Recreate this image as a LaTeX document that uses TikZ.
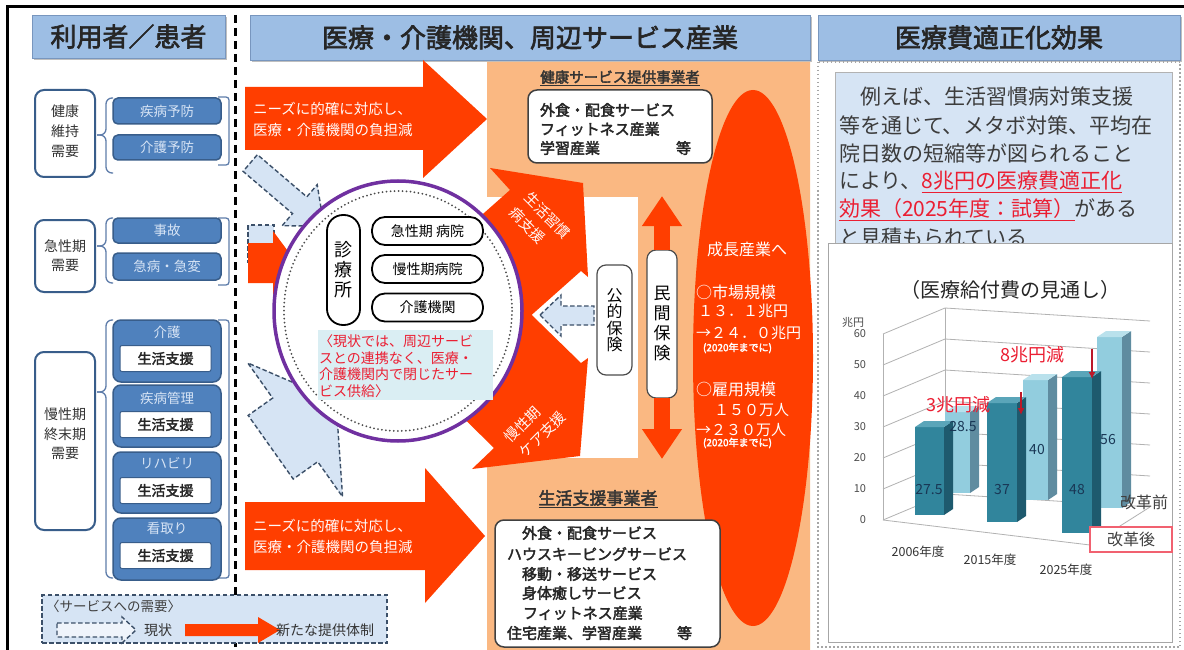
\documentclass[tikz,border=0pt]{standalone}
\usepackage{fontspec}
\setmainfont[AutoFakeBold=2.5]{Noto Sans CJK JP}
\usetikzlibrary{shapes.geometric,arrows.meta}
\definecolor{hdr}{RGB}{157,190,228}
\definecolor{hdrd}{RGB}{120,150,190}
\definecolor{bx}{RGB}{79,129,189}
\definecolor{bxd}{RGB}{56,93,138}
\definecolor{bxt}{RGB}{215,228,245}
\definecolor{brk}{RGB}{95,125,170}
\definecolor{rd}{RGB}{255,62,0}
\definecolor{org}{RGB}{250,184,130}
\definecolor{dsh}{RGB}{60,80,105}
\definecolor{lbl}{RGB}{214,228,244}
\definecolor{purp}{RGB}{112,48,160}
\definecolor{cyb}{RGB}{218,238,243}
\definecolor{tealf}{RGB}{49,133,156}
\definecolor{teals}{RGB}{30,90,110}
\definecolor{tealt}{RGB}{90,165,185}
\definecolor{ltf}{RGB}{146,205,222}
\definecolor{lts}{RGB}{95,140,160}
\definecolor{ltt}{RGB}{185,225,236}
\definecolor{pred}{RGB}{235,30,50}
\definecolor{txg}{RGB}{60,60,60}
\newcommand\fsz[2]{\fontsize{#1}{#2}\selectfont}
\newcommand\cbar[7]{%
  \fill[#5] (#1,#4) rectangle (#2,#3);
  \fill[#6] (#2,#4) -- ({#2+9},{#4-6}) -- ({#2+9},{#3-6}) -- (#2,#3) -- cycle;
  \fill[#7] (#1,#3) -- ({#1+9},{#3-6}) -- ({#2+9},{#3-6}) -- (#2,#3) -- cycle;}
\tikzset{
 every node/.style={inner sep=0pt, outer sep=0pt},
 hdrbox/.style={fill=hdr, draw=hdrd, line width=0.8pt, font=\fsz{26}{30}\bfseries, text=black!85},
 needbox/.style={draw=bxd, line width=2pt, rounded corners=9pt, fill=white},
 needtxt/.style={font=\fsz{14}{20}, align=center, text=black!80},
 bluebox/.style={fill=bx, draw=bxd, line width=1.5pt, rounded corners=5pt, minimum width=108pt, font=\fsz{13.5}{16}, text=bxt},
 grptxt/.style={font=\fsz{13.5}{16}, text=bxt},
 lifebox/.style={fill=white, draw=bxd, line width=1pt, rounded corners=2pt, minimum width=91pt, minimum height=26pt, font=\fsz{14}{16}\bfseries, text=black!85},
 brace/.style={draw=brk, line width=1.3pt, rounded corners=6pt},
 dashar/.style={fill=lbl, draw=dsh, line width=1.4pt, dash pattern=on 4.5pt off 2.5pt},
 arrtxt/.style={font=\fsz{14.5}{21}, text=white!92!pink, align=left},
 stad/.style={draw=black, line width=1.8pt, rounded corners=13pt, fill=white, font=\fsz{14}{16}},
 vbox/.style={draw=black!70, line width=1.2pt, rounded corners=9pt, fill=white, align=center},
 wbox/.style={draw=black!75, line width=1.5pt, rounded corners=9pt, fill=white},
 svc/.style={font=\fsz{15}{17}\bfseries, anchor=west, text=black!85},
 eltxt/.style={font=\fsz{16}{18}, text=white},
 elnum/.style={font=\fsz{15}{18}, text=white, anchor=west},
 elsm/.style={font=\fsz{10}{12}\bfseries, text=white, anchor=west},
 ptxt/.style={font=\fsz{21}{24}, anchor=west, text=txg},
 axl/.style={font=\fsz{11}{12}, text=black!70},
 chgrid/.style={draw=black!30, line width=0.8pt},
 barl/.style={font=\fsz{14}{16}, text={rgb,255:red,25;green,55;blue,85}},
 bigar/.style={draw=rd, line width=16pt, -{Triangle[length=30pt,width=38pt]}},
 chartar/.style={draw=pred!80!black, line width=1.5pt, -{Latex[length=7pt,width=7pt]}},
}
\begin{document}
\begin{tikzpicture}[x=1pt,y=-1pt]
\useasboundingbox (0,0) rectangle (1184,650);
\fill[white] (0,0) rectangle (1184,650);
% frame
\draw[line width=3pt] (7,650) -- (7,7) -- (1184,7);
% headers
\fill[black!25] (34,17) rectangle (227,60);
\node[hdrbox, minimum width=193pt, minimum height=43pt] (h1) at (128.5,36.5) {利用者／患者};
\fill[black!25] (252,17) rectangle (812,62);
\node[hdrbox, minimum width=560pt, minimum height=45pt] (h2) at (530,37.5) {医療・介護機関、周辺サービス産業};
\fill[black!25] (820,17) rectangle (1182,62);
\node[hdrbox, minimum width=362pt, minimum height=45pt] (h3) at (999,37.5) {医療費適正化効果};
% divider
\draw[line width=3pt, dash pattern=on 8pt off 5pt] (235,15) -- (235,650);

% ---------- left column ----------
\node[needbox, minimum width=60pt, minimum height=87pt] (n1) at (65,133.5) {};
\node[needtxt] (n1t) at (65,131) {健康\\維持\\需要};
\node[needbox, minimum width=60pt, minimum height=72pt] (n2) at (65,256) {};
\node[needtxt, font=\fsz{14}{19}] (n2t) at (65,256) {急性期\\需要};
\node[needbox, minimum width=60pt, minimum height=178pt] (n3) at (65,441) {};
\node[needtxt, font=\fsz{14}{19.5}] (n3t) at (65,434) {慢性期\\終末期\\需要};

\draw[brace] (113,98) -- (106,98) -- (106,135) -- (97,135);
\draw[brace] (113,173) -- (106,173) -- (106,135) -- (97,135);
\draw[brace] (113,218) -- (106,218) -- (106,246) -- (97,246);
\draw[brace] (113,283) -- (106,283) -- (106,246) -- (97,246);
\draw[brace] (113,320) -- (106,320) -- (106,392) -- (97,392);
\draw[brace] (113,578) -- (106,578) -- (106,392) -- (97,392);
\draw[brace, rounded corners=3pt] (218,97) -- (229,97) -- (229,165) -- (218,165);
\draw[brace, rounded corners=3pt] (218,218) -- (229,218) -- (229,285) -- (218,285);
\draw[brace, rounded corners=3pt] (218,320) -- (229,320) -- (229,578) -- (218,578);

\node[bluebox, minimum height=26pt] (b1) at (167,111) {疾病予防};
\node[bluebox, minimum height=25pt] (b2) at (167,147.5) {介護予防};
\node[bluebox, minimum height=25pt] (b3) at (167,230.5) {事故};
\node[bluebox, minimum height=27pt] (b4) at (167,266.5) {急病・急変};

\node[bluebox, minimum height=62pt, rounded corners=8pt] (g1) at (167,351) {};
\node[grptxt] (g1t) at (167,332) {介護};
\node[lifebox] (g1s) at (165.5,358.5) {生活支援};
\node[bluebox, minimum height=62pt, rounded corners=8pt] (g2) at (167,416) {};
\node[grptxt] (g2t) at (167,398) {疾病管理};
\node[lifebox] (g2s) at (165.5,424.5) {生活支援};
\node[bluebox, minimum height=61pt, rounded corners=8pt] (g3) at (167,482.5) {};
\node[grptxt] (g3t) at (167,463) {リハビリ};
\node[lifebox] (g3s) at (165.5,490.5) {生活支援};
\node[bluebox, minimum height=62pt, rounded corners=8pt] (g4) at (167,549) {};
\node[grptxt] (g4t) at (167,528) {看取り};
\node[lifebox] (g4s) at (165.5,555.5) {生活支援};

% legend
\node[draw=dsh, line width=1.4pt, dash pattern=on 4.5pt off 2.5pt, fill=lbl, minimum width=345pt, minimum height=48pt] (leg) at (214.5,619) {};
\node[font=\fsz{13.5}{16}, text=black!75, anchor=west] (legt) at (46,606) {〈サービスへの需要〉};
\draw[dashar, fill=lbl!40] (57,623) -- (122,623) -- (122,617) -- (136,630) -- (122,643) -- (122,637) -- (57,637) -- cycle;
\node[font=\fsz{14}{16}, text=black!80] (legc) at (158,630) {現状};
\fill[rd] (185,624) -- (258,624) -- (258,617) -- (280,630) -- (258,643) -- (258,636) -- (185,636) -- cycle;
\node[font=\fsz{14}{16}, text=black!80, anchor=west] (legn) at (276,630) {新たな提供体制};

% ---------- middle ----------
\fill[org] (487,62) -- (810,62) -- (810,650) -- (487,650) -- (487,458) -- (638,458) -- (638,197) -- (487,197) -- cycle;

\fill[rd] (245,87) -- (423,87) -- (423,60) -- (487,119) -- (423,178) -- (423,150) -- (245,150) -- cycle;
\node[arrtxt, anchor=west] (a1t) at (253,119) {ニーズに的確に対応し、\\医療・介護機関の負担減};
\fill[rd] (245,502) -- (425,502) -- (425,468) -- (485,536) -- (425,603) -- (425,570) -- (245,570) -- cycle;
\node[arrtxt, anchor=west] (a2t) at (253,536) {ニーズに的確に対応し、\\医療・介護機関の負担減};

\fill[rd] (490,168) -- (583,183) -- (588,277) -- (581,271) -- (500,343) -- (440,252) -- (510,190) -- cycle;
\fill[rd] (472,469) -- (580,456) -- (588,358) -- (581,363) -- (500,284) -- (440,395) -- (494,448) -- cycle;
\node[arrtxt, rotate=-45] (a3t) at (540,223) {生活習慣\\病支援};
\node[arrtxt, rotate=45] (a4t) at (535,427) {慢性期\\ケア支援};

% dashed demand arrows
\begin{scope}[shift={(324,226)}, rotate=-40.5]
\draw[dashar] (0,0) -- (-32,27) -- (-32,11) -- (-97,11) -- (-97,-11) -- (-32,-11) -- (-32,-27) -- cycle;
\end{scope}
\begin{scope}[shift={(336,401)}, rotate=35.3]
\draw[dashar] (0,0) -- (-50,82) -- (-50,39) -- (-80,39) -- (-80,-39) -- (-50,-39) -- (-50,-82) -- cycle;
\end{scope}
\draw[dashar] (248,225) rectangle (274,262);
\fill[rd] (248,243) -- (273,243) -- (273,231) -- (296,262) -- (273,295) -- (273,283) -- (248,283) -- cycle;

% circle
\node[ellipse, draw=purp, line width=3.5pt, fill=white, minimum width=248pt, minimum height=260pt] (cir) at (398,311) {};
\draw[black!70, line width=2pt, dash pattern=on 0pt off 4pt, line cap=round] (cir.center) ellipse [x radius=114, y radius=120];
\node[stad, minimum width=33pt, minimum height=110pt, rounded corners=16pt, font=\fsz{18}{20}, align=center] (clinic) at (343.5,270) {診\\療\\所};
\node[stad, minimum width=111pt, minimum height=28pt] (s1) at (427.5,231) {急性期 病院};
\node[stad, minimum width=111pt, minimum height=28pt] (s2) at (427.5,269) {慢性期病院};
\node[stad, minimum width=111pt, minimum height=28pt] (s3) at (427.5,307.5) {介護機関};
\node[fill=cyb, minimum width=175pt, minimum height=70pt] (cbox) at (405.5,365) {};
\node[anchor=north west, font=\fsz{14}{16.5}, text=pred, align=left] (cboxt) at (319,335) {〈現状では、周辺サービ\\スとの連携なく、医療・\\介護機関内で閉じたサー\\ビス供給〉};

% public insurance
\node[vbox, minimum width=35pt, minimum height=110pt, font=\fsz{16}{16.5}] (kt) at (614.5,320) {公\\的\\保\\険};
\draw[dashar] (540,315) -- (561,295) -- (561,306) -- (594,306) -- (594,325) -- (561,325) -- (561,336) -- cycle;

% private insurance
\node[vbox, minimum width=30pt, minimum height=148pt, font=\fsz{17}{20}] (mk) at (662,324) {民\\間\\保\\険};
\coordinate (mkup) at (662,196);
\coordinate (mkdn) at (662,459);
\draw[bigar] (mk.north) -- (mkup);
\draw[bigar] (mk.south) -- (mkdn);

% growth ellipse
\node[ellipse, fill=rd, minimum width=120pt, minimum height=536pt] (el) at (753,358) {};
\node[eltxt] (e1) at (747,249) {成長産業へ};
\node[eltxt, anchor=west] (e2) at (696,292) {○市場規模};
\node[elnum] (e3) at (698,311) {１３．１兆円};
\node[elnum] (e4) at (696,333) {→２４．０兆円};
\node[elsm] (e5) at (703,348) {(2020年までに)};
\node[eltxt, anchor=west] (e6) at (696,389) {○雇用規模};
\node[elnum] (e7) at (714,410) {１５０万人};
\node[elnum] (e8) at (696,430) {→２３０万人};
\node[elsm] (e9) at (703,443) {(2020年までに)};

% top provider box
\node[font=\fsz{14.5}{16}\bfseries, text=black!80] (t1) at (620,78) {\underline{健康サービス提供事業者}};
\node[wbox, minimum width=184pt, minimum height=73pt] (tb) at (620,126.5) {};
\node[svc] (tb1) at (540,110) {外食・配食サービス};
\node[svc] (tb2) at (540,129) {フィットネス産業};
\node[svc] (tb3) at (540,148) {学習産業};
\node[svc] (tb4) at (676,148) {等};

% bottom provider box
\node[font=\fsz{17}{19}\bfseries, text=black!80] (t2) at (598,499) {\underline{生活支援事業者}};
\node[wbox, minimum width=225pt, minimum height=127pt] (bb) at (607.5,583.5) {};
\node[svc] (bb1) at (522,533) {外食・配食サービス};
\node[svc] (bb2) at (507,554) {ハウスキーピングサービス};
\node[svc] (bb3) at (522,574) {移動・移送サービス};
\node[svc] (bb4) at (522,593) {身体癒しサービス};
\node[svc] (bb5) at (523,613) {フィットネス産業};
\node[svc] (bb6) at (507,633) {住宅産業、学習産業};
\node[svc] (bb7) at (677,633) {等};

% ---------- right panel ----------
\draw[black!35, line width=1.5pt, dash pattern=on 1.5pt off 2.5pt] (818,62) rectangle (1180,647);
\node[fill=lbl, draw=black!30, line width=1pt, minimum width=337pt, minimum height=180pt] (tp) at (1003.5,163) {};
\node[ptxt] (p1) at (860,97) {例えば、生活習慣病対策支援};
\node[ptxt] (p2) at (839,125) {等を通じて、メタボ対策、平均在};
\node[ptxt] (p3) at (839,153) {院日数の短縮等が図られること};
\node[ptxt] (p4) at (839,182) {により、\textcolor{pred}{\underline{8兆円の医療費適正化}}};
\node[ptxt] (p5) at (839,210) {\textcolor{pred}{\underline{効果（2025年度：試算）}}がある};
\node[ptxt] (p6) at (839,238) {と見積もられている};

\node[fill=white, draw=black!35, line width=1pt, minimum width=344pt, minimum height=399pt] (chart) at (1000,442.5) {};
\node[font=\fsz{20}{22}, text=black!85] (ct) at (1010,290) {（医療給付費の見通し）};
\node[axl] (unit) at (853,322) {兆円};
\foreach \v in {0,10,...,60}{
  \pgfmathsetmacro\yy{520-3.1*\v}
  \draw[chgrid] (883,\yy) -- (945,{\yy-26}) -- (1150,{\yy-13});
  \node[axl, anchor=east] (tk\v) at (866,\yy) {\v};
}
\draw[chgrid] (883,334) -- (883,520);
\draw[chgrid] (945,308) -- (945,494);
\draw[chgrid] (883,520) -- (1090,545) -- (1150,507);
% back bars (before reform)
\cbar{945}{970}{412}{493}{ltf}{lts}{ltt}
\cbar{1023}{1048}{380}{500}{ltf}{lts}{ltt}
\cbar{1097}{1122}{337}{508}{ltf}{lts}{ltt}
% front bars (after reform)
\cbar{915}{944}{427}{515}{tealf}{teals}{tealt}
\cbar{987}{1017}{403}{522}{tealf}{teals}{tealt}
\cbar{1062}{1092}{377}{533}{tealf}{teals}{tealt}
\node[barl] (v1) at (929,490) {27.5};
\node[barl] (v2) at (963,427) {28.5};
\node[barl] (v3) at (1002,490) {37};
\node[barl] (v4) at (1037,450) {40};
\node[barl] (v5) at (1077,490) {48};
\node[barl] (v6) at (1108,440) {56};
\node[font=\fsz{18}{20}, text=pred] (r8) at (1032,355) {8兆円減};
\node[font=\fsz{18}{20}, text=pred] (r3) at (958,405) {3兆円減};
\coordinate (ar8a) at (1092,349);
\coordinate (ar8b) at (1092,379);
\coordinate (ar3a) at (1021,392);
\coordinate (ar3b) at (1021,415);
\draw[chartar] (ar8a) -- (ar8b);
\draw[chartar] (ar3a) -- (ar3b);
\node[font=\fsz{16}{18}, text=black!75] (kb) at (1144,502) {改革前};
\node[draw=pred!70, line width=1.8pt, fill=white, minimum width=82pt, minimum height=25pt, font=\fsz{16}{18}, text=black!75] (ka) at (1131,539.5) {改革後};
\node[font=\fsz{12.5}{14}, text=black!80] (y1) at (918,552) {2006年度};
\node[font=\fsz{12.5}{14}, text=black!80] (y2) at (990,560) {2015年度};
\node[font=\fsz{12.5}{14}, text=black!80] (y3) at (1066,570) {2025年度};
\end{tikzpicture}
\end{document}
